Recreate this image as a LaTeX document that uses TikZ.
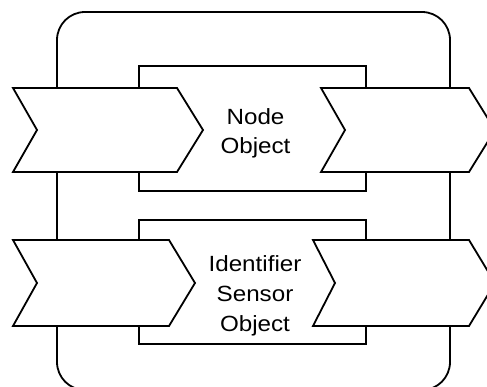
\documentclass[tikz,border=0pt]{standalone}
\usepackage{fontspec}
\setmainfont{Liberation Sans}[FakeStretch=1.1]
\begin{document}
\begin{tikzpicture}[x=1pt,y=-1pt,
  line/.style={draw=black,line width=1.8pt,line join=miter},
  chev/.style={line,fill=white},
  lbl/.style={font=\fontsize{22}{29}\selectfont,align=center,anchor=base,inner sep=0pt}]
\useasboundingbox (0,0) rectangle (487,387);
\clip (0,0) rectangle (487,387);
% outer rounded frame
\draw[line,rounded corners=28pt] (57,12) rectangle (450,390);
% inner rectangles
\draw[line] (139,66) rectangle (366,191);
\draw[line] (139,220) rectangle (366,344);
% chevrons
\draw[chev] (13,88) -- (177,88) -- (203,130) -- (177,172) -- (13,172) -- (37,130) -- cycle;
\draw[chev] (321,88) -- (469,88) -- (495,130) -- (469,172) -- (321,172) -- (345,130) -- cycle;
\draw[chev] (13,240) -- (169,240) -- (195,283) -- (169,326) -- (13,326) -- (37,283) -- cycle;
\draw[chev] (313,240) -- (469,240) -- (495,283) -- (469,326) -- (313,326) -- (335,283) -- cycle;
% labels (anchored at the baseline of the last line)
\node[lbl] (t1) at (255.5,153.7) {Node\\Object};
\node[lbl,font=\fontsize{22}{30}\selectfont] (t2) at (255,331) {Identifier\\Sensor\\Object};
\end{tikzpicture}
\end{document}
